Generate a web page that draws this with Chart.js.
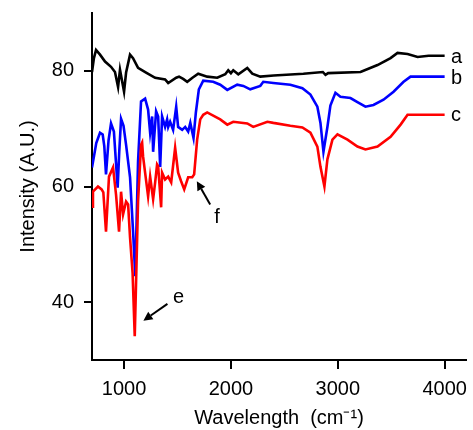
<!DOCTYPE html>
<html>
<head>
<meta charset="utf-8">
<script src="https://cdn.jsdelivr.net/npm/chart.js@4.4.1/dist/chart.umd.min.js"></script>
<style>
  html, body { margin: 0; padding: 0; background: #fff; }
</style>
</head>
<body>
<canvas id="ftirChart" width="473" height="430"></canvas>
<script>
// Спектры a, b, c: волновое число (см-1) и интенсивность
const waveA = [700, 718, 738, 775, 822, 878, 915, 944, 962, 1000, 1019, 1056, 1084, 1131, 1159, 1206, 1291, 1384, 1413, 1488, 1515, 1553, 1591, 1640, 1694, 1778, 1872, 1947, 1975, 2000, 2022, 2069, 2153, 2200, 2275, 2400, 2678, 2860, 2885, 2910, 3213, 3372, 3494, 3559, 3653, 3747, 3850, 4000];
const intA = [79.8, 82.2, 83.6, 82.8, 81.6, 80.7, 79.8, 77.2, 80.2, 76.4, 79.7, 82.8, 82.2, 80.5, 80.2, 79.7, 78.8, 78.5, 77.9, 78.8, 79.0, 78.6, 78.1, 78.8, 79.5, 79.0, 78.8, 79.4, 80.1, 79.6, 80.1, 79.4, 80.5, 79.5, 79.0, 79.2, 79.5, 79.8, 79.3, 79.6, 79.8, 81.0, 82.2, 83.1, 82.9, 82.4, 82.6, 82.6];

const waveB = [700, 740, 775, 800, 815, 831, 855, 878, 905, 940, 955, 972, 995, 1019, 1056, 1085, 1105, 1131, 1159, 1197, 1225, 1244, 1263, 1272, 1300, 1319, 1338, 1356, 1384, 1403, 1413, 1431, 1459, 1488, 1506, 1544, 1572, 1600, 1620, 1650, 1672, 1700, 1741, 1834, 1900, 1966, 2059, 2116, 2181, 2275, 2303, 2397, 2556, 2669, 2744, 2809, 2838, 2866, 2903, 2931, 2978, 3025, 3119, 3184, 3259, 3334, 3428, 3522, 3616, 3681, 3803, 4000];
const intB = [63.3, 67.5, 69.3, 69.0, 67.0, 62.1, 68.0, 70.9, 69.5, 59.8, 66.0, 71.7, 70.5, 67.2, 61.6, 52.0, 44.5, 64.3, 74.7, 75.2, 73.3, 69.3, 72.1, 66.0, 73.0, 72.1, 63.4, 72.1, 70.3, 71.6, 70.3, 71.2, 69.8, 73.8, 70.3, 69.8, 70.3, 69.5, 71.0, 68.4, 72.8, 76.8, 78.3, 78.1, 77.6, 76.7, 77.6, 77.4, 76.8, 77.4, 78.1, 77.9, 77.6, 77.0, 75.9, 73.8, 71.0, 66.0, 70.3, 74.0, 76.2, 75.5, 75.3, 74.6, 73.8, 74.1, 75.0, 76.4, 78.1, 79.0, 79.0, 79.0];

const waveC = [700, 709, 756, 790, 806, 831, 859, 897, 925, 953, 972, 991, 1019, 1038, 1056, 1080, 1100, 1131, 1159, 1169, 1178, 1197, 1225, 1244, 1272, 1291, 1309, 1319, 1347, 1356, 1384, 1413, 1441, 1478, 1506, 1534, 1563, 1600, 1638, 1656, 1684, 1713, 1741, 1778, 1900, 1966, 2022, 2153, 2209, 2341, 2397, 2556, 2669, 2744, 2809, 2838, 2875, 2903, 2950, 2997, 3091, 3184, 3259, 3372, 3494, 3588, 3653, 3747, 4000];
const intC = [56.5, 59.1, 60.0, 59.5, 59.0, 52.2, 61.7, 63.3, 58.6, 52.2, 59.1, 55.2, 57.4, 56.9, 51.2, 45.0, 34.1, 57.4, 67.2, 67.6, 65.2, 62.4, 58.3, 61.7, 57.8, 60.7, 63.8, 63.5, 56.4, 62.4, 61.2, 61.7, 60.7, 66.7, 62.4, 60.9, 59.5, 61.6, 61.6, 62.1, 68.1, 71.6, 72.4, 72.8, 71.6, 70.7, 71.2, 70.9, 70.3, 71.2, 71.0, 70.5, 70.2, 69.3, 66.9, 63.4, 60.0, 64.7, 68.1, 69.0, 68.1, 66.9, 66.4, 66.9, 68.6, 70.7, 72.4, 72.4, 72.4];

const curveNames = ['a', 'b', 'c'];
const curveNameY = [82.3, 78.6, 72.2];
const xTicks = [1000, 2000, 3000, 4000];
const yTicks = [40, 60, 80];

// стрелки e и f (в координатах данных)
const arrowNotes = [
  { text: 'e', tail: [1406, 39.7], head: [1181, 36.8], at: [1509, 40.8] },
  { text: 'f', tail: [1806, 56.9], head: [1681, 60.9], at: [1869, 54.6] }
];

const FONT = '"Liberation Sans", Arial, sans-serif';
const toPoints = (xs, ys) => xs.map((x, i) => ({ x, y: ys[i] }));

const notesPlugin = {
  id: 'notes',
  afterDatasetsDraw(chart) {
    const { ctx, scales: { x, y } } = chart;
    ctx.save();
    ctx.fillStyle = '#000';
    ctx.strokeStyle = '#000';
    ctx.font = `20px ${FONT}`;
    ctx.textBaseline = 'middle';
    ctx.textAlign = 'left';
    curveNames.forEach((t, i) => {
      ctx.fillText(t, x.getPixelForValue(4060), y.getPixelForValue(curveNameY[i]));
    });

    ctx.textAlign = 'center';
    arrowNotes.forEach(n => {
      const x1 = x.getPixelForValue(n.tail[0]), y1 = y.getPixelForValue(n.tail[1]);
      const x2 = x.getPixelForValue(n.head[0]), y2 = y.getPixelForValue(n.head[1]);
      const ang = Math.atan2(y2 - y1, x2 - x1);
      const len = 9, w = 4.5;
      const bx = x2 - len * Math.cos(ang), by = y2 - len * Math.sin(ang);
      ctx.lineWidth = 2;
      ctx.beginPath();
      ctx.moveTo(x1, y1);
      ctx.lineTo(bx, by);
      ctx.stroke();
      ctx.beginPath();
      ctx.moveTo(x2, y2);
      ctx.lineTo(bx + w * Math.sin(ang), by - w * Math.cos(ang));
      ctx.lineTo(bx - w * Math.sin(ang), by + w * Math.cos(ang));
      ctx.closePath();
      ctx.fill();
      ctx.fillText(n.text, x.getPixelForValue(n.at[0]), y.getPixelForValue(n.at[1]));
    });
    ctx.restore();
  }
};

const axisFont = { family: FONT, size: 20 };

new Chart(document.getElementById('ftirChart'), {
  type: 'line',
  data: {
    datasets: [
      { label: 'a', data: toPoints(waveA, intA), borderColor: '#000000', order: 2 },
      { label: 'b', data: toPoints(waveB, intB), borderColor: '#0000ff', order: 1 },
      { label: 'c', data: toPoints(waveC, intC), borderColor: '#ff0000', order: 0 }
    ]
  },
  options: {
    responsive: false,
    animation: false,
    parsing: false,
    elements: {
      line: { borderWidth: 2.6, tension: 0, fill: false },
      point: { radius: 0 }
    },
    layout: { padding: { top: 13, right: 7, left: 0, bottom: 0 } },
    plugins: {
      legend: { display: false },
      tooltip: { enabled: false }
    },
    scales: {
      x: {
        type: 'linear',
        min: 700,
        max: 4200,
        afterBuildTicks: s => { s.ticks = xTicks.map(v => ({ value: v })); },
        afterFit: s => { s.height = 70; s.paddingLeft = 0; s.paddingRight = 0; },
        ticks: { font: axisFont, color: '#000', padding: 8, maxRotation: 0, callback: v => String(v) },
        grid: { drawOnChartArea: false, tickLength: 9, color: '#000', lineWidth: 2 },
        border: { color: '#000', width: 2 },
        title: { display: true, text: 'Wavelength  (cm⁻¹)', font: axisFont, color: '#000', padding: 0 }
      },
      y: {
        min: 30,
        max: 90,
        afterBuildTicks: s => { s.ticks = yTicks.map(v => ({ value: v })); },
        afterFit: s => { s.width = 92; s.paddingTop = 0; s.paddingBottom = 0; },
        ticks: { font: axisFont, color: '#000', padding: 10 },
        grid: { drawOnChartArea: false, tickLength: 8, color: '#000', lineWidth: 2 },
        border: { color: '#000', width: 2 },
        title: { display: true, text: 'Intensity (A.U.)', font: axisFont, color: '#000', padding: { top: 16, bottom: 0 } }
      }
    }
  },
  plugins: [notesPlugin]
});
</script>
</body>
</html>
